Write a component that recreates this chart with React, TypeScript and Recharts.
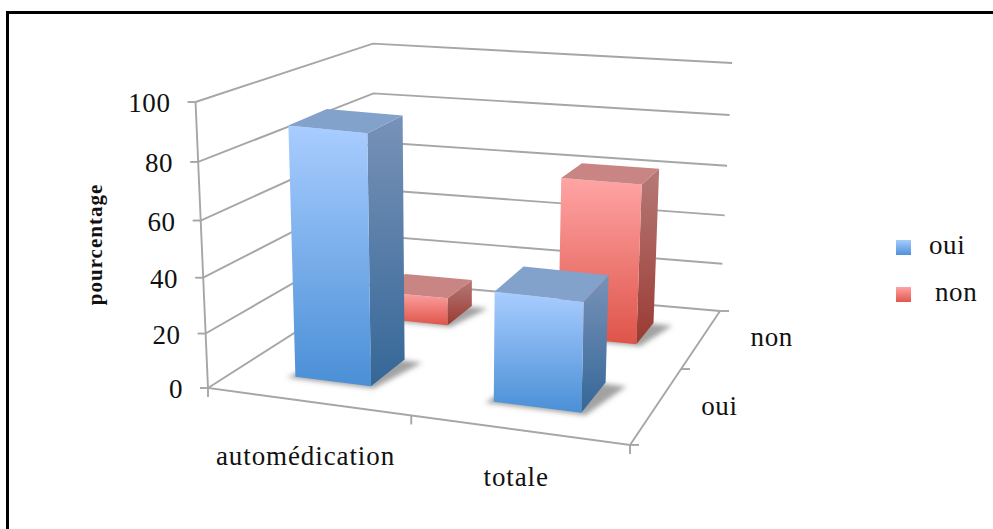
import { Bar, BarChart, CartesianGrid, Legend, XAxis, YAxis } from "recharts";

const categories = ["automédication", "totale"];
const ouiValues = [90, 40];
const nonValues = [11, 62];
const yTicks = [0, 20, 40, 60, 80, 100];
const depthLabels = ["oui", "non"];
const legendItems = ["oui", "non"];

const chartData = categories.map((name, i) => ({
  name,
  oui: ouiValues[i],
  non: nonValues[i],
}));

const FONT = "'Liberation Serif', serif";
const TEXT = "#111";
const GRID = "#a6a6a6";

// plot box on the page, the floor quad below hangs from it
const LEFT = 208;
const RIGHT = 630;
const TOP = 102;
const BOTTOM = 388;
const PLOT_W = RIGHT - LEFT;
const PLOT_H = BOTTOM - TOP;

// depth span of each row of bars, 0 = front of the floor, 1 = back wall
const ROWS: Record<string, [number, number]> = {
  oui: [0.143, 0.35],
  non: [0.65, 0.84],
};

// homography from the unit floor square to the picture
function floor(u: number, v: number) {
  const w = -0.1424 * u + 0.264 * v + 1;
  return {
    x: (332.3 * u + 267.3 * v + LEFT) / w,
    y: (-6.4 * u - 32.8 * v + BOTTOM) / w,
  };
}

// verticals are a little shorter further back and lean toward x = 450
function project(u: number, v: number, h: number) {
  const p = floor(u, v);
  const t = h / PLOT_H;
  const warped = PLOT_H * (t + 0.06 * t * (t - 1));
  const lifted = warped * (1 + 0.037 * u - 0.17 * v);
  return { x: p.x + (p.x - 450) * 0.00018 * lifted, y: p.y - lifted };
}

const pts = (list: { x: number; y: number }[]) =>
  list.map((p) => `${p.x},${p.y}`).join(" ");

function Bar3D(props: any) {
  const { x, width, height, row } = props;
  if (!height) return null;
  const u0 = (x - LEFT + 4) / PLOT_W;
  const u1 = (x + width - LEFT + 4) / PLOT_W;
  const [v0, v1] = ROWS[row];
  const c = (u: number, v: number, h: number) => project(u, v, h);

  return (
    <g>
      <polygon
        points={pts([
          c(u0 - 0.016, v0 - 0.012, 0),
          c(u1 + 0.012, v0 - 0.012, 0),
          c(u1 + 0.05, v1 - 0.01, 0),
          c(u0 + 0.02, v1, 0),
        ])}
        fill="#555"
        fillOpacity={0.55}
        filter="url(#floorShadow)"
      />
      <polygon
        points={pts([c(u1, v0, height), c(u1, v1, height), c(u1, v1, 0), c(u1, v0, 0)])}
        fill={`url(#${row}Side)`}
      />
      <polygon
        points={pts([c(u0, v0, height), c(u1, v0, height), c(u1, v0, 0), c(u0, v0, 0)])}
        fill={`url(#${row}Front)`}
      />
      <polygon
        points={pts([c(u0, v0, height), c(u1, v0, height), c(u1, v1, height), c(u0, v1, height)])}
        fill={row === "oui" ? "#82a2cc" : "#c98583"}
      />
    </g>
  );
}

function stub(key: string, x1: number, y1: number, x2: number, y2: number) {
  return <line key={key} x1={x1} y1={y1} x2={x2} y2={y2} stroke={GRID} strokeWidth={1.9} />;
}

// each wall line runs along the left wall then the back wall; the baseline also draws the floor
function WallLine(props: any) {
  const h = BOTTOM - props.y1;
  const a = project(0, 0, h);
  const d = project(0, 1, h);
  const e = project(1, 1, h);
  const isBase = Math.abs(h) < 0.5;
  return (
    <g key={props.key}>
      <polyline points={pts([a, d, e])} fill="none" stroke={GRID} strokeWidth={1.9} />
      {isBase && (
        <g>
          <polyline
            points={pts([project(0, 0, PLOT_H), project(0, 0, 0), project(1, 0, 0), project(1, 1, 0)])}
            fill="none"
            stroke={GRID}
            strokeWidth={1.9}
          />
          {[0, 0.52, 1].map((u) => {
            const p = floor(u, 0);
            return stub(`f${u}`, p.x, p.y, p.x, p.y + 9);
          })}
          {[0, 0.5, 1].map((v) => {
            const p = floor(1, v);
            return stub(`d${v}`, p.x, p.y, p.x + 9, p.y);
          })}
          {depthLabels.map((label, i) => {
            const p = floor(1, 0.25 + i * 0.5);
            return (
              <text
                key={label}
                x={p.x + 62 + i * 8}
                y={p.y + 11 + i * -3}
                textAnchor="middle"
                fontFamily={FONT}
                fontSize={27}
                letterSpacing={0.6}
                fill={TEXT}
              >
                {label}
              </text>
            );
          })}
        </g>
      )}
    </g>
  );
}

function YTick(props: any) {
  const { y, payload } = props;
  const p = project(0, 0, BOTTOM - y);
  return (
    <g>
      {stub("t", p.x - 8, p.y, p.x, p.y)}
      <text
        x={p.x - 25}
        y={p.y + 10}
        textAnchor="end"
        fontFamily={FONT}
        fontSize={27}
        letterSpacing={0.6}
        fill={TEXT}
      >
        {payload.value}
      </text>
    </g>
  );
}

function XTick(props: any) {
  const { x, payload } = props;
  const p = floor((x - LEFT + 4) / PLOT_W, 0);
  return (
    <text
      x={p.x}
      y={p.y * 0.74 + 168} // labels fall less steeply than the floor edge
      textAnchor="middle"
      fontFamily={FONT}
      fontSize={27}
      letterSpacing={0.9}
      fill={TEXT}
    >
      {payload.value}
    </text>
  );
}

function LegendBox() {
  return (
    <div style={{ fontFamily: FONT, fontSize: 27, color: TEXT }}>
      {legendItems.map((name, i) => (
        <div key={name} style={{ position: "absolute", left: 0, top: i * 47, height: 15, width: 100 }}>
          <div
            style={{
              position: "absolute",
              width: 15,
              height: 15,
              background:
                name === "oui"
                  ? "linear-gradient(#a5cbfb, #4f92da)"
                  : "linear-gradient(#ffa3a3, #e0574e)",
            }}
          />
          <span
            style={{
              position: "absolute",
              left: name === "oui" ? 33 : 39,
              top: -10,
              lineHeight: "31px",
              letterSpacing: 0.6,
            }}
          >
            {name}
          </span>
        </div>
      ))}
    </div>
  );
}

export default function App() {
  return (
    <div
      style={{
        position: "absolute",
        left: 0,
        top: 0,
        width: 993,
        height: 529,
        overflow: "hidden",
        background: "#fff",
      }}
    >
      <div
        style={{
          position: "absolute",
          left: 6,
          top: 11,
          width: 1000,
          height: 600,
          borderLeft: "3px solid #000",
          borderTop: "3px solid #000",
        }}
      />
      <BarChart
        width={993}
        height={529}
        data={chartData}
        margin={{ top: TOP, right: 993 - RIGHT, bottom: 529 - BOTTOM - 30, left: LEFT - 60 }}
        barSize={84}
        barGap={-84}
        style={{ position: "absolute", left: 0, top: 0 }}
      >
        <defs>
          <linearGradient id="ouiFront" x1="0" y1="0" x2="0" y2="1">
            <stop offset="0" stopColor="#a9cdff" />
            <stop offset="1" stopColor="#4a8fd6" />
          </linearGradient>
          <linearGradient id="ouiSide" x1="0" y1="0" x2="0" y2="1">
            <stop offset="0" stopColor="#7892b8" />
            <stop offset="1" stopColor="#356797" />
          </linearGradient>
          <linearGradient id="nonFront" x1="0" y1="0" x2="0" y2="1">
            <stop offset="0" stopColor="#ffa4a4" />
            <stop offset="1" stopColor="#de5449" />
          </linearGradient>
          <linearGradient id="nonSide" x1="0" y1="0" x2="0" y2="1">
            <stop offset="0" stopColor="#b67a78" />
            <stop offset="1" stopColor="#9a3a32" />
          </linearGradient>
          <filter id="floorShadow" x="-20%" y="-30%" width="140%" height="160%">
            <feGaussianBlur stdDeviation="2.5" />
          </filter>
        </defs>
        <CartesianGrid vertical={false} horizontal={WallLine} />
        <XAxis dataKey="name" axisLine={false} tickLine={false} height={30} interval={0} tick={XTick} />
        <YAxis
          domain={[0, 100]}
          ticks={yTicks}
          interval={0}
          width={60}
          axisLine={false}
          tickLine={false}
          tick={YTick}
          label={{
            content: () => (
              <text
                transform="translate(102 244.5) rotate(-90)"
                textAnchor="middle"
                fontFamily={FONT}
                fontSize={21}
                letterSpacing={1}
                fontWeight="bold"
                fill={TEXT}
              >
                pourcentage
              </text>
            ),
          }}
        />
        <Legend
          layout="vertical"
          align="center"
          verticalAlign="middle"
          content={LegendBox}
          wrapperStyle={{ left: 896, top: 240, width: 100, height: 70 }}
        />
        <Bar dataKey="non" isAnimationActive={false} shape={(p: any) => <Bar3D {...p} row="non" />} />
        <Bar dataKey="oui" isAnimationActive={false} shape={(p: any) => <Bar3D {...p} row="oui" />} />
      </BarChart>
    </div>
  );
}
